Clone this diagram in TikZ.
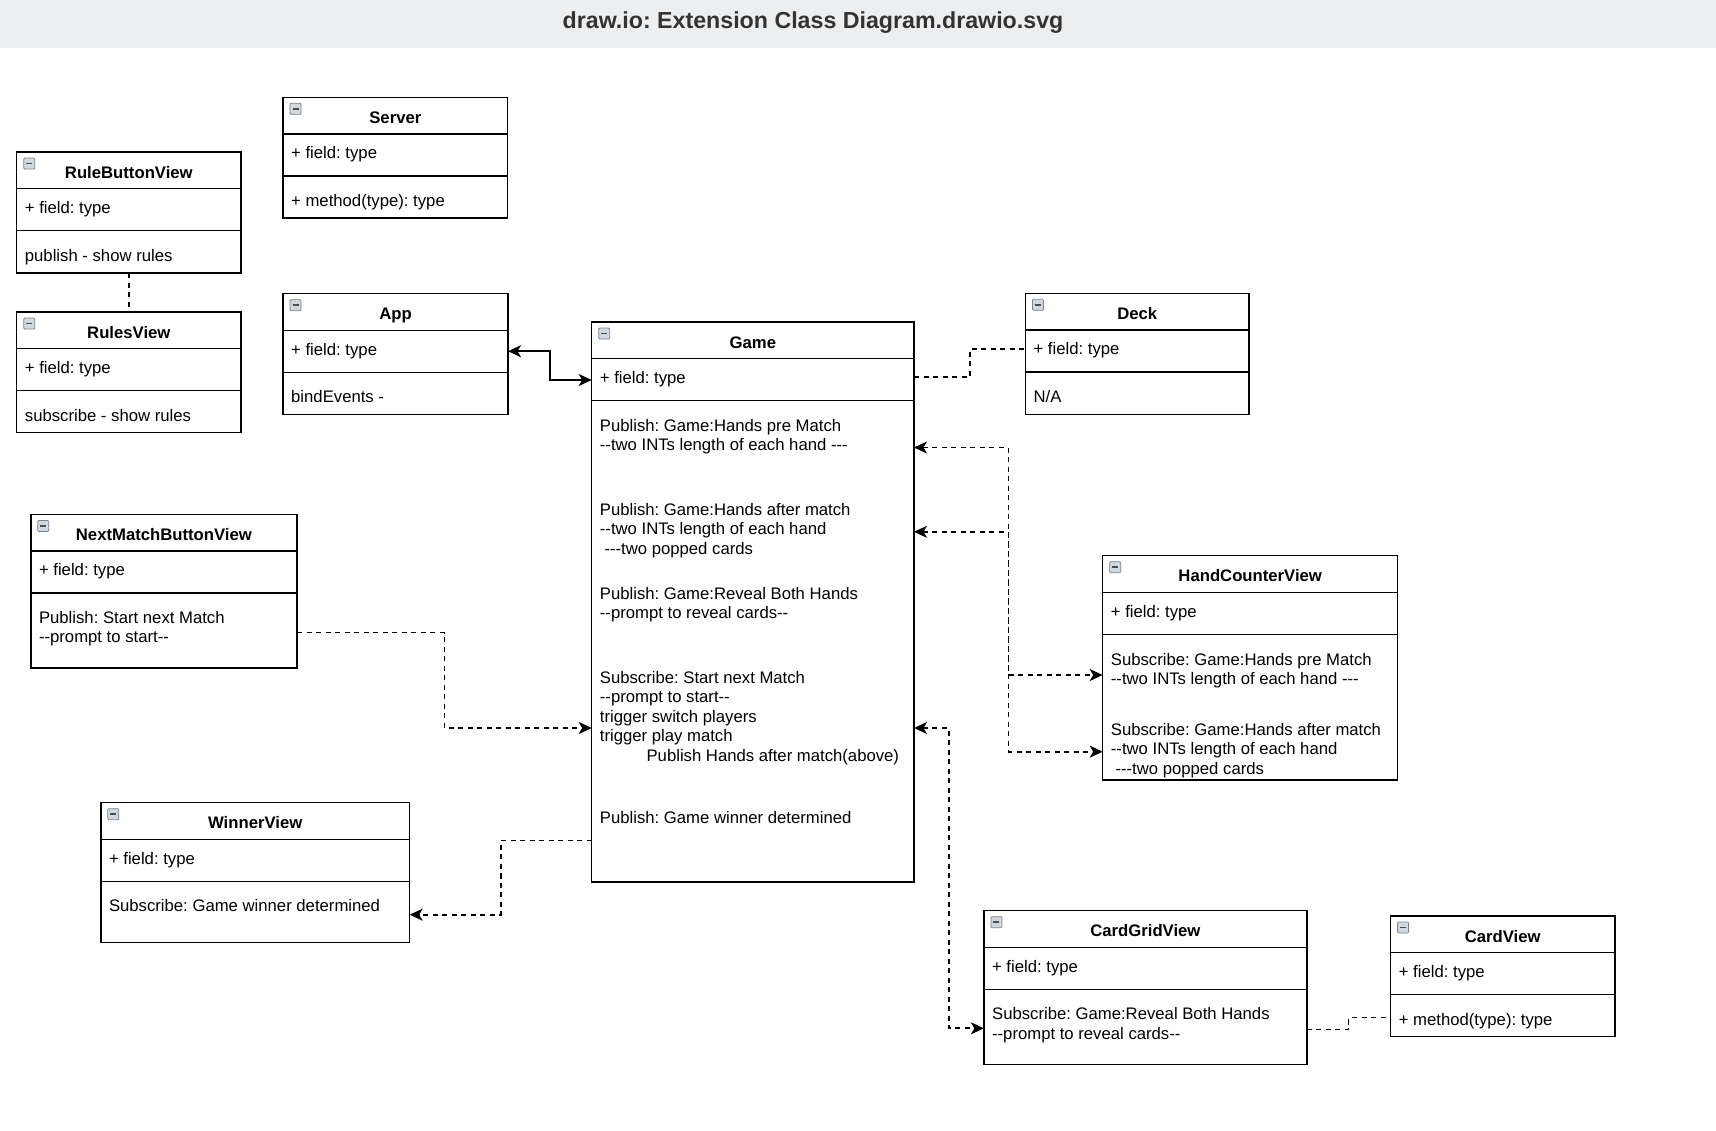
\documentclass[tikz,border=0pt]{standalone}
\usepackage{fontspec}
\newfontfamily\uifont{Liberation Sans}
\usetikzlibrary{arrows.meta,calc}
\definecolor{barcol}{RGB}{237,238,240}
\definecolor{titlecol}{RGB}{51,51,51}
\definecolor{icondraw}{RGB}{120,130,140}
\definecolor{iconfill}{RGB}{210,216,224}
\frenchspacing
\newcommand{\lns}[1]{\begin{tabular}[t]{@{}l@{}}#1\end{tabular}}
% name, left, top, width, height, title, field
\newcommand{\umlbox}[7]{%
  \node[classbox, minimum width=#4pt, minimum height=#5pt] (#1) at (#2,#3) {};
  \draw[boxline] ($(#1.north west)+(0,36.5)$) -- ($(#1.north east)+(0,36.5)$);
  \draw[boxline] ($(#1.north west)+(0,78.5)$) -- ($(#1.north east)+(0,78.5)$);
  \draw[iconbox] ($(#1.north west)+(7,6)$) rectangle ($(#1.north west)+(18,17)$);
  \draw[line width=1.5pt, black!70] ($(#1.north west)+(9.5,11.5)$) -- ($(#1.north west)+(15.5,11.5)$);
  \node[ttl] (#1-title) at ($(#1.north)+(0,26)$) {#6};
  \node[body] (#1-field) at ($(#1.north west)+(8,61.5)$) {#7};
}
\begin{document}
\begin{tikzpicture}[x=1pt,y=-1pt,
  body/.style={font=\uifont\frenchspacing\fontsize{16.7}{19.5}\selectfont, inner sep=0pt, anchor=base west},
  ttl/.style={font=\uifont\frenchspacing\bfseries\fontsize{16.7}{19.5}\selectfont, inner sep=0pt, anchor=base},
  classbox/.style={draw=black, line width=1.4pt, fill=white, inner sep=0pt, outer sep=0pt, anchor=north west},
  boxline/.style={draw=black, line width=1.4pt},
  iconbox/.style={draw=icondraw, fill=iconfill, line width=0.8pt, rounded corners=1pt},
  conn/.style={line width=1.7pt, >={Stealth[length=13pt,width=12pt,inset=3.5pt]}},
  dconn/.style={conn, dash pattern=on 5pt off 4.5pt},
]
\useasboundingbox (0,0) rectangle (1716,1130);
\fill[barcol] (0,0) rectangle (1716,48);
\node[font=\uifont\frenchspacing\bfseries\fontsize{23.2}{28}\selectfont, text=titlecol, inner sep=0pt, anchor=base] (title) at (813,28) {draw.io: Extension Class Diagram.drawio.svg};

% classes
\umlbox{rbv}{16.7}{152}{224.3}{121}{RuleButtonView}{+ field: type}
\node[body] (rbv-m) at ($(rbv.north west)+(8,109)$) {publish - show rules};

\umlbox{rv}{16.7}{312}{224.3}{120.7}{RulesView}{+ field: type}
\node[body] (rv-m) at ($(rv.north west)+(8,109)$) {subscribe - show rules};

\umlbox{server}{283}{97.3}{224.7}{120.7}{Server}{+ field: type}
\node[body] (server-m) at ($(server.north west)+(8,109)$) {+ method(type): type};

\umlbox{app}{283}{293.7}{225}{120.6}{App}{+ field: type}
\node[body] (app-m) at ($(app.north west)+(8,109)$) {bindEvents -};

\umlbox{game}{591.7}{322}{322.3}{560}{Game}{+ field: type}
\node[body] (game-m1) at ($(game.north west)+(8,109)$) {\lns{Publish: Game:Hands pre Match\\--two INTs length of each hand ---}};
\node[body] (game-m2) at ($(game.north west)+(8,193.3)$) {\lns{Publish: Game:Hands after match\\--two INTs length of each hand\\\hspace*{4.6pt}---two popped cards}};
\node[body] (game-m3) at ($(game.north west)+(8,277.3)$) {\lns{Publish: Game:Reveal Both Hands\\--prompt to reveal cards--}};
\node[body] (game-m4) at ($(game.north west)+(8,361.3)$) {\lns{Subscribe: Start next Match\\--prompt to start--\\trigger switch players\\trigger play match\\\hspace*{46.7pt}Publish Hands after match(above)}};
\node[body] (game-m5) at ($(game.north west)+(8,501.3)$) {Publish: Game winner determined};

\umlbox{deck}{1025.4}{293.3}{223.6}{121}{Deck}{+ field: type}
\node[body] (deck-m) at ($(deck.north west)+(8,109)$) {N/A};

\umlbox{nmbv}{30.8}{514.4}{266.2}{153.6}{NextMatchButtonView}{+ field: type}
\node[body] (nmbv-m) at ($(nmbv.north west)+(8,109)$) {\lns{Publish: Start next Match\\--prompt to start--}};

\umlbox{win}{100.8}{802.7}{308.8}{140}{WinnerView}{+ field: type}
\node[body] (win-m) at ($(win.north west)+(8,109)$) {Subscribe: Game winner determined};

\umlbox{hcv}{1102.7}{555.7}{295}{224.3}{HandCounterView}{+ field: type}
\node[body] (hcv-m1) at ($(hcv.north west)+(8,109.6)$) {\lns{Subscribe: Game:Hands pre Match\\--two INTs length of each hand ---}};
\node[body] (hcv-m2) at ($(hcv.north west)+(8,179.6)$) {\lns{Subscribe: Game:Hands after match\\--two INTs length of each hand\\\hspace*{4.6pt}---two popped cards}};

\umlbox{cgv}{983.9}{910.7}{323}{153.6}{CardGridView}{+ field: type}
\node[body] (cgv-m) at ($(cgv.north west)+(8,109)$) {\lns{Subscribe: Game:Reveal Both Hands\\--prompt to reveal cards--}};

\umlbox{cv}{1390.6}{916}{224.2}{120.7}{CardView}{+ field: type}
\node[body] (cv-m) at ($(cv.north west)+(8,109)$) {+ method(type): type};

% connectors
\draw[dconn] (rbv.south) -- (rv.north);

\coordinate (appR) at ($(app.north east)+(0,57.5)$);
\coordinate (gameLf) at ($(game.north west)+(0,58)$);
\draw[conn,<->] (appR) -| ($(appR)!.5!(gameLf)$) |- (gameLf);

\coordinate (gameRf) at ($(game.north east)+(0,55)$);
\coordinate (deckLf) at ($(deck.north west)+(0,56)$);
\draw[dconn] (gameRf) -| ($(gameRf)!.5!(deckLf)$) |- (deckLf);

\coordinate (gameR1) at ($(game.north east)+(0,125.5)$);
\coordinate (hcvL1) at ($(hcv.north west)+(0,119.3)$);
\draw[dconn,<->] (gameR1) -| ($(gameR1)!.5!(hcvL1)$) |- (hcvL1);

\coordinate (gameR2) at ($(game.north east)+(0,209.8)$);
\coordinate (hcvL2) at ($(hcv.north west)+(0,196)$);
\draw[dconn,<->] (gameR2) -| ($(gameR2)!.5!(hcvL2)$) |- (hcvL2);

\coordinate (nmbvR) at ($(nmbv.north east)+(0,118.2)$);
\coordinate (gameL2) at ($(game.north west)+(0,406)$);
\draw[dconn,->] (nmbvR) -| ($(nmbvR)!.5!(gameL2)$) |- (gameL2);

\coordinate (gameL3) at ($(game.north west)+(0,518.6)$);
\coordinate (winR) at ($(win.north east)+(0,112)$);
\draw[dconn,->] (gameL3) -| ($(gameL3)!.5!(winR)$) |- (winR);

\coordinate (gameR3) at ($(game.north east)+(0,406)$);
\coordinate (cgvL) at ($(cgv.north west)+(0,117.6)$);
\draw[dconn,<->] (gameR3) -| ($(gameR3)!.5!(cgvL)$) |- (cgvL);

\coordinate (cgvR) at ($(cgv.north east)+(0,118.6)$);
\coordinate (cvL) at ($(cv.north west)+(0,101.7)$);
\draw[dconn, line width=1.2pt] (cgvR) -| ($(cgvR)!.5!(cvL)$) |- (cvL);
\end{tikzpicture}
\end{document}
